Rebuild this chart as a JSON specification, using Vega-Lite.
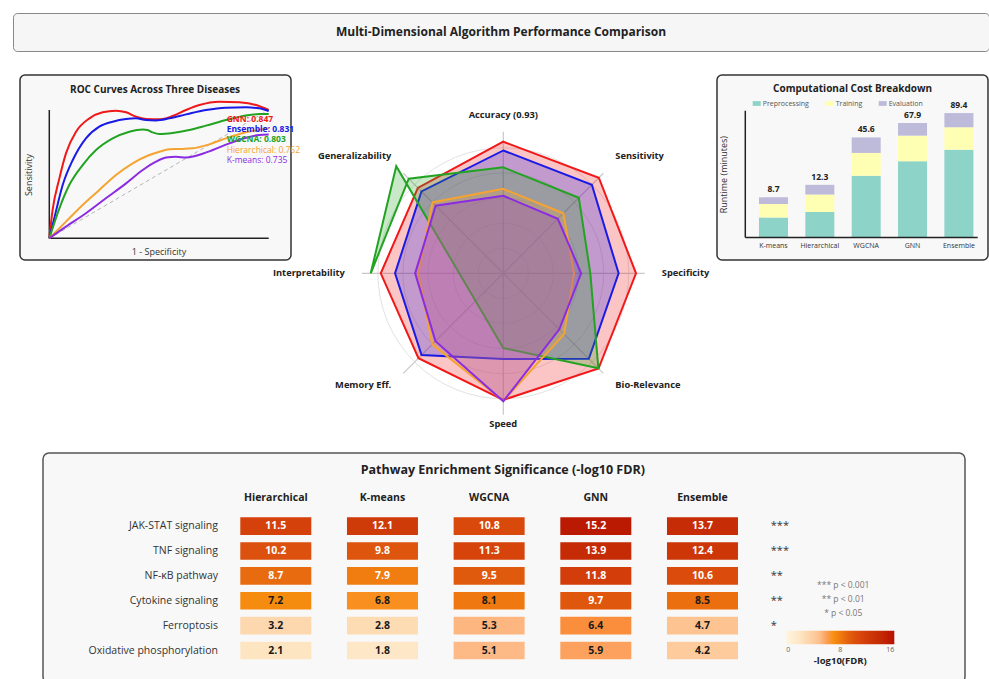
{
"$schema": "https://vega.github.io/schema/vega-lite/v6.json",
"background": "white",
"padding": {"left": 12, "top": 12, "right": 0, "bottom": 0},
"bounds": "full",
"spacing": 22,
"resolve": {"scale": {"color": "independent", "size": "independent"}, "legend": {"color": "independent", "size": "independent"}},
"config": {"font": "Open Sans", "view": {"stroke": null}},
"datasets": {
"roc": [
{"algo":"GNN","fpr":0,"tpr":0},{"algo":"GNN","fpr":0.015,"tpr":0.22},{"algo":"GNN","fpr":0.046,"tpr":0.467},{"algo":"GNN","fpr":0.076,"tpr":0.662},{"algo":"GNN","fpr":0.122,"tpr":0.831},{"algo":"GNN","fpr":0.183,"tpr":0.935},{"algo":"GNN","fpr":0.243,"tpr":0.982},{"algo":"GNN","fpr":0.304,"tpr":0.995},{"algo":"GNN","fpr":0.35,"tpr":0.982},{"algo":"GNN","fpr":0.395,"tpr":0.948},{"algo":"GNN","fpr":0.441,"tpr":0.93},{"algo":"GNN","fpr":0.502,"tpr":0.927},{"algo":"GNN","fpr":0.562,"tpr":0.953},{"algo":"GNN","fpr":0.623,"tpr":1.0},{"algo":"GNN","fpr":0.684,"tpr":1.039},{"algo":"GNN","fpr":0.775,"tpr":1.065},{"algo":"GNN","fpr":0.866,"tpr":1.06},{"algo":"GNN","fpr":0.942,"tpr":1.039},{"algo":"GNN","fpr":1.0,"tpr":1.0},
{"algo":"Ensemble","fpr":0,"tpr":0},{"algo":"Ensemble","fpr":0.03,"tpr":0.208},{"algo":"Ensemble","fpr":0.061,"tpr":0.415},{"algo":"Ensemble","fpr":0.107,"tpr":0.61},{"algo":"Ensemble","fpr":0.167,"tpr":0.779},{"algo":"Ensemble","fpr":0.228,"tpr":0.87},{"algo":"Ensemble","fpr":0.289,"tpr":0.909},{"algo":"Ensemble","fpr":0.35,"tpr":0.93},{"algo":"Ensemble","fpr":0.395,"tpr":0.935},{"algo":"Ensemble","fpr":0.441,"tpr":0.922},{"algo":"Ensemble","fpr":0.486,"tpr":0.919},{"algo":"Ensemble","fpr":0.547,"tpr":0.935},{"algo":"Ensemble","fpr":0.623,"tpr":0.966},{"algo":"Ensemble","fpr":0.714,"tpr":1.0},{"algo":"Ensemble","fpr":0.805,"tpr":1.018},{"algo":"Ensemble","fpr":0.897,"tpr":1.021},{"algo":"Ensemble","fpr":0.957,"tpr":1.013},{"algo":"Ensemble","fpr":1.0,"tpr":0.992},
{"algo":"WGCNA","fpr":0,"tpr":0},{"algo":"WGCNA","fpr":0.046,"tpr":0.234},{"algo":"WGCNA","fpr":0.091,"tpr":0.415},{"algo":"WGCNA","fpr":0.152,"tpr":0.571},{"algo":"WGCNA","fpr":0.213,"tpr":0.688},{"algo":"WGCNA","fpr":0.289,"tpr":0.779},{"algo":"WGCNA","fpr":0.365,"tpr":0.831},{"algo":"WGCNA","fpr":0.426,"tpr":0.849},{"algo":"WGCNA","fpr":0.448,"tpr":0.844},{"algo":"WGCNA","fpr":0.471,"tpr":0.826},{"algo":"WGCNA","fpr":0.502,"tpr":0.813},{"algo":"WGCNA","fpr":0.562,"tpr":0.821},{"algo":"WGCNA","fpr":0.638,"tpr":0.844},{"algo":"WGCNA","fpr":0.714,"tpr":0.878},{"algo":"WGCNA","fpr":0.805,"tpr":0.922},{"algo":"WGCNA","fpr":0.897,"tpr":0.958},{"algo":"WGCNA","fpr":0.957,"tpr":0.968},{"algo":"WGCNA","fpr":1.0,"tpr":0.968},
{"algo":"Hierarchical","fpr":0,"tpr":0},{"algo":"Hierarchical","fpr":0.076,"tpr":0.13},{"algo":"Hierarchical","fpr":0.152,"tpr":0.26},{"algo":"Hierarchical","fpr":0.228,"tpr":0.377},{"algo":"Hierarchical","fpr":0.304,"tpr":0.493},{"algo":"Hierarchical","fpr":0.38,"tpr":0.584},{"algo":"Hierarchical","fpr":0.456,"tpr":0.649},{"algo":"Hierarchical","fpr":0.502,"tpr":0.675},{"algo":"Hierarchical","fpr":0.547,"tpr":0.694},{"algo":"Hierarchical","fpr":0.593,"tpr":0.696},{"algo":"Hierarchical","fpr":0.654,"tpr":0.701},{"algo":"Hierarchical","fpr":0.729,"tpr":0.732},{"algo":"Hierarchical","fpr":0.805,"tpr":0.779},{"algo":"Hierarchical","fpr":0.897,"tpr":0.826},{"algo":"Hierarchical","fpr":1.0,"tpr":0.857},
{"algo":"K-means","fpr":0,"tpr":0},{"algo":"K-means","fpr":0.076,"tpr":0.091},{"algo":"K-means","fpr":0.167,"tpr":0.195},{"algo":"K-means","fpr":0.258,"tpr":0.312},{"algo":"K-means","fpr":0.35,"tpr":0.428},{"algo":"K-means","fpr":0.426,"tpr":0.532},{"algo":"K-means","fpr":0.486,"tpr":0.597},{"algo":"K-means","fpr":0.532,"tpr":0.629},{"algo":"K-means","fpr":0.578,"tpr":0.636},{"algo":"K-means","fpr":0.623,"tpr":0.629},{"algo":"K-means","fpr":0.669,"tpr":0.644},{"algo":"K-means","fpr":0.745,"tpr":0.688},{"algo":"K-means","fpr":0.821,"tpr":0.74},{"algo":"K-means","fpr":0.897,"tpr":0.784},{"algo":"K-means","fpr":0.957,"tpr":0.805},{"algo":"K-means","fpr":1.0,"tpr":0.81}
],
"roclab": [{"algo":"GNN","auc":0.847},{"algo":"Ensemble","auc":0.831},{"algo":"WGCNA","auc":0.803},{"algo":"Hierarchical","auc":0.762},{"algo":"K-means","auc":0.735}],
"axes": [
{"axis":"Accuracy","label":"Accuracy (0.93)"},{"axis":"Sensitivity","label":"Sensitivity"},{"axis":"Specificity","label":"Specificity"},{"axis":"Bio-Relevance","label":"Bio-Relevance"},{"axis":"Speed","label":"Speed"},{"axis":"Memory Eff.","label":"Memory Eff."},{"axis":"Interpretability","label":"Interpretability"},{"axis":"Generalizability","label":"Generalizability"}
],
"rings": [{"r":0.2},{"r":0.4},{"r":0.6},{"r":0.8},{"r":1.0}],
"radar": [
{"algo":"GNN","ord":1,"axis":"Accuracy","value":0.93},{"algo":"GNN","ord":2,"axis":"Sensitivity","value":0.955},{"algo":"GNN","ord":3,"axis":"Specificity","value":0.938},{"algo":"GNN","ord":4,"axis":"Bio-Relevance","value":0.952},{"algo":"GNN","ord":5,"axis":"Speed","value":0.895},{"algo":"GNN","ord":6,"axis":"Memory Eff.","value":0.848},{"algo":"GNN","ord":7,"axis":"Interpretability","value":0.866},{"algo":"GNN","ord":8,"axis":"Generalizability","value":0.854},
{"algo":"Ensemble","ord":1,"axis":"Accuracy","value":0.868},{"algo":"Ensemble","ord":2,"axis":"Sensitivity","value":0.885},{"algo":"Ensemble","ord":3,"axis":"Specificity","value":0.815},{"algo":"Ensemble","ord":4,"axis":"Bio-Relevance","value":0.855},{"algo":"Ensemble","ord":5,"axis":"Speed","value":0.605},{"algo":"Ensemble","ord":6,"axis":"Memory Eff.","value":0.817},{"algo":"Ensemble","ord":7,"axis":"Interpretability","value":0.765},{"algo":"Ensemble","ord":8,"axis":"Generalizability","value":0.818},
{"algo":"WGCNA","ord":1,"axis":"Accuracy","value":0.749},{"algo":"WGCNA","ord":2,"axis":"Sensitivity","value":0.755},{"algo":"WGCNA","ord":3,"axis":"Specificity","value":0.615},{"algo":"WGCNA","ord":4,"axis":"Bio-Relevance","value":0.95},{"algo":"WGCNA","ord":5,"axis":"Speed","value":0.528},{"algo":"WGCNA","ord":6,"axis":"Generalizability","value":1.07},{"algo":"WGCNA","ord":7,"axis":"Interpretability","value":0.937},{"algo":"WGCNA","ord":8,"axis":"Generalizability","value":0.945},
{"algo":"Hierarchical","ord":1,"axis":"Accuracy","value":0.597},{"algo":"Hierarchical","ord":2,"axis":"Sensitivity","value":0.6},{"algo":"Hierarchical","ord":3,"axis":"Specificity","value":0.5},{"algo":"Hierarchical","ord":4,"axis":"Bio-Relevance","value":0.608},{"algo":"Hierarchical","ord":5,"axis":"Speed","value":0.902},{"algo":"Hierarchical","ord":6,"axis":"Memory Eff.","value":0.71},{"algo":"Hierarchical","ord":7,"axis":"Interpretability","value":0.6},{"algo":"Hierarchical","ord":8,"axis":"Generalizability","value":0.708},
{"algo":"K-means","ord":1,"axis":"Accuracy","value":0.548},{"algo":"K-means","ord":2,"axis":"Sensitivity","value":0.545},{"algo":"K-means","ord":3,"axis":"Specificity","value":0.55},{"algo":"K-means","ord":4,"axis":"Bio-Relevance","value":0.56},{"algo":"K-means","ord":5,"axis":"Speed","value":0.905},{"algo":"K-means","ord":6,"axis":"Memory Eff.","value":0.678},{"algo":"K-means","ord":7,"axis":"Interpretability","value":0.623},{"algo":"K-means","ord":8,"axis":"Generalizability","value":0.676}
],
"cost": [
{"algo":"K-means","part":"Preprocessing","value":5.0},{"algo":"K-means","part":"Training","value":2.25},{"algo":"K-means","part":"Evaluation","value":1.45},
{"algo":"Hierarchical","part":"Preprocessing","value":5.8},{"algo":"Hierarchical","part":"Training","value":3.6},{"algo":"Hierarchical","part":"Evaluation","value":2.9},
{"algo":"WGCNA","part":"Preprocessing","value":15.8},{"algo":"WGCNA","part":"Training","value":13.9},{"algo":"WGCNA","part":"Evaluation","value":15.9},
{"algo":"GNN","part":"Preprocessing","value":23.6},{"algo":"GNN","part":"Training","value":24.3},{"algo":"GNN","part":"Evaluation","value":20.0},
{"algo":"Ensemble","part":"Preprocessing","value":32.5},{"algo":"Ensemble","part":"Training","value":27.9},{"algo":"Ensemble","part":"Evaluation","value":29.0}
],
"heat": [
{"pathway":"JAK-STAT signaling","algo":"Hierarchical","value":11.5},{"pathway":"JAK-STAT signaling","algo":"K-means","value":12.1},{"pathway":"JAK-STAT signaling","algo":"WGCNA","value":10.8},{"pathway":"JAK-STAT signaling","algo":"GNN","value":15.2},{"pathway":"JAK-STAT signaling","algo":"Ensemble","value":13.7},
{"pathway":"TNF signaling","algo":"Hierarchical","value":10.2},{"pathway":"TNF signaling","algo":"K-means","value":9.8},{"pathway":"TNF signaling","algo":"WGCNA","value":11.3},{"pathway":"TNF signaling","algo":"GNN","value":13.9},{"pathway":"TNF signaling","algo":"Ensemble","value":12.4},
{"pathway":"NF-κB pathway","algo":"Hierarchical","value":8.7},{"pathway":"NF-κB pathway","algo":"K-means","value":7.9},{"pathway":"NF-κB pathway","algo":"WGCNA","value":9.5},{"pathway":"NF-κB pathway","algo":"GNN","value":11.8},{"pathway":"NF-κB pathway","algo":"Ensemble","value":10.6},
{"pathway":"Cytokine signaling","algo":"Hierarchical","value":7.2},{"pathway":"Cytokine signaling","algo":"K-means","value":6.8},{"pathway":"Cytokine signaling","algo":"WGCNA","value":8.1},{"pathway":"Cytokine signaling","algo":"GNN","value":9.7},{"pathway":"Cytokine signaling","algo":"Ensemble","value":8.5},
{"pathway":"Ferroptosis","algo":"Hierarchical","value":3.2},{"pathway":"Ferroptosis","algo":"K-means","value":2.8},{"pathway":"Ferroptosis","algo":"WGCNA","value":5.3},{"pathway":"Ferroptosis","algo":"GNN","value":6.4},{"pathway":"Ferroptosis","algo":"Ensemble","value":4.7},
{"pathway":"Oxidative phosphorylation","algo":"Hierarchical","value":2.1},{"pathway":"Oxidative phosphorylation","algo":"K-means","value":1.8},{"pathway":"Oxidative phosphorylation","algo":"WGCNA","value":5.1},{"pathway":"Oxidative phosphorylation","algo":"GNN","value":5.9},{"pathway":"Oxidative phosphorylation","algo":"Ensemble","value":4.2}
],
"sig": [
{"pathway":"JAK-STAT signaling","stars":"***"},{"pathway":"TNF signaling","stars":"***"},{"pathway":"NF-κB pathway","stars":"**"},{"pathway":"Cytokine signaling","stars":"**"},{"pathway":"Ferroptosis","stars":"*"}
]
},
"vconcat": [
{
"width": 976, "height": 38,
"view": {"fill": "#f6f6f6", "stroke": "#888888", "strokeWidth": 1, "cornerRadius": 4},
"data": {"values": [{"t": "Multi-Dimensional Algorithm Performance Comparison"}]},
"mark": {"type": "text", "fontSize": 12, "fontWeight": "bold", "color": "#222222"},
"encoding": {"text": {"field": "t", "type": "nominal"}}
},
{
"resolve": {"scale": {"color": "independent", "size": "independent"}, "legend": {"color": "independent", "size": "independent"}},
"hconcat": [
{"width": 7, "height": 354, "data": {"values": [{"t": ""}]}, "mark": {"type": "text"}, "encoding": {"text": {"field": "t", "type": "nominal"}}},
{
"width": 271, "height": 185,
"view": {"fill": "#f8f8f8", "stroke": "#333333", "strokeWidth": 1.5, "cornerRadius": 5},
"layer": [
{"data": {"values": [{"a": 0, "b": 1}]}, "mark": {"type": "rule", "color": "#b5b5b5", "strokeDash": [4, 3], "strokeWidth": 1},
 "encoding": {"x": {"field": "a", "type": "quantitative", "scale": {"domain": [-0.1335, 1.1016], "nice": false, "zero": false}, "axis": null}, "y": {"field": "a", "type": "quantitative", "scale": {"domain": [-0.1691, 1.2728], "nice": false, "zero": false}, "axis": null}, "x2": {"field": "b"}, "y2": {"field": "b"}}},
{"data": {"values": [{"a": 0, "b": 1}]}, "mark": {"type": "rule", "color": "#222222", "strokeWidth": 1.5},
 "encoding": {"x": {"field": "a", "type": "quantitative", "scale": {"domain": [-0.1335, 1.1016], "nice": false, "zero": false}, "axis": null}, "y": {"field": "a", "type": "quantitative", "scale": {"domain": [-0.1691, 1.2728], "nice": false, "zero": false}, "axis": null}, "y2": {"field": "b"}}},
{"data": {"values": [{"a": 0, "b": 1}]}, "mark": {"type": "rule", "color": "#222222", "strokeWidth": 1.5},
 "encoding": {"x": {"field": "a", "type": "quantitative", "scale": {"domain": [-0.1335, 1.1016], "nice": false, "zero": false}, "axis": null}, "x2": {"field": "b"}, "y": {"field": "a", "type": "quantitative", "scale": {"domain": [-0.1691, 1.2728], "nice": false, "zero": false}, "axis": null}}},
{"data": {"name": "roc"}, "mark": {"type": "line", "interpolate": "monotone", "strokeWidth": 2},
 "encoding": {"x": {"field": "fpr", "type": "quantitative", "scale": {"domain": [-0.1335, 1.1016], "nice": false, "zero": false}, "axis": null}, "y": {"field": "tpr", "type": "quantitative", "scale": {"domain": [-0.1691, 1.2728], "nice": false, "zero": false}, "axis": null},
  "color": {"field": "algo", "type": "nominal", "scale": {"domain": ["GNN","Ensemble","WGCNA","Hierarchical","K-means"], "range": ["#f01818","#1a1ae6","#22a322","#f5a331","#8b2be2"]}, "legend": null}}},
{"data": {"name": "roclab"}, "transform": [{"filter": "datum.algo == 'GNN'"}, {"calculate": "datum.algo + ': ' + format(datum.auc, '.3f')", "as": "lab"}],
 "mark": {"type": "text", "align": "left", "fontSize": 8.5, "fontWeight": "bold", "color": "#f01818"},
 "encoding": {"x": {"datum": 0.8086, "type": "quantitative", "scale": {"domain": [-0.1335, 1.1016], "nice": false, "zero": false}, "axis": null}, "y": {"datum": 0.932, "type": "quantitative", "scale": {"domain": [-0.1691, 1.2728], "nice": false, "zero": false}, "axis": null}, "text": {"field": "lab", "type": "nominal"}}},
{"data": {"name": "roclab"}, "transform": [{"filter": "datum.algo == 'Ensemble'"}, {"calculate": "datum.algo + ': ' + format(datum.auc, '.3f')", "as": "lab"}],
 "mark": {"type": "text", "align": "left", "fontSize": 8.5, "fontWeight": "bold", "color": "#1a1ae6"},
 "encoding": {"x": {"datum": 0.8086, "type": "quantitative", "scale": {"domain": [-0.1335, 1.1016], "nice": false, "zero": false}, "axis": null}, "y": {"datum": 0.852, "type": "quantitative", "scale": {"domain": [-0.1691, 1.2728], "nice": false, "zero": false}, "axis": null}, "text": {"field": "lab", "type": "nominal"}}},
{"data": {"name": "roclab"}, "transform": [{"filter": "datum.algo == 'WGCNA'"}, {"calculate": "datum.algo + ': ' + format(datum.auc, '.3f')", "as": "lab"}],
 "mark": {"type": "text", "align": "left", "fontSize": 8.5, "fontWeight": "bold", "color": "#22a322"},
 "encoding": {"x": {"datum": 0.8086, "type": "quantitative", "scale": {"domain": [-0.1335, 1.1016], "nice": false, "zero": false}, "axis": null}, "y": {"datum": 0.772, "type": "quantitative", "scale": {"domain": [-0.1691, 1.2728], "nice": false, "zero": false}, "axis": null}, "text": {"field": "lab", "type": "nominal"}}},
{"data": {"name": "roclab"}, "transform": [{"filter": "datum.algo == 'Hierarchical'"}, {"calculate": "datum.algo + ': ' + format(datum.auc, '.3f')", "as": "lab"}],
 "mark": {"type": "text", "align": "left", "fontSize": 8.5, "color": "#f5a331"},
 "encoding": {"x": {"datum": 0.8086, "type": "quantitative", "scale": {"domain": [-0.1335, 1.1016], "nice": false, "zero": false}, "axis": null}, "y": {"datum": 0.691, "type": "quantitative", "scale": {"domain": [-0.1691, 1.2728], "nice": false, "zero": false}, "axis": null}, "text": {"field": "lab", "type": "nominal"}}},
{"data": {"name": "roclab"}, "transform": [{"filter": "datum.algo == 'K-means'"}, {"calculate": "datum.algo + ': ' + format(datum.auc, '.3f')", "as": "lab"}],
 "mark": {"type": "text", "align": "left", "fontSize": 8.5, "color": "#8b2be2"},
 "encoding": {"x": {"datum": 0.8086, "type": "quantitative", "scale": {"domain": [-0.1335, 1.1016], "nice": false, "zero": false}, "axis": null}, "y": {"datum": 0.611, "type": "quantitative", "scale": {"domain": [-0.1691, 1.2728], "nice": false, "zero": false}, "axis": null}, "text": {"field": "lab", "type": "nominal"}}},
{"data": {"values": [{"t": "ROC Curves Across Three Diseases"}]}, "mark": {"type": "text", "fontSize": 10, "fontWeight": "bold", "color": "#222222"},
 "encoding": {"x": {"datum": 0.482, "type": "quantitative", "scale": {"domain": [-0.1335, 1.1016], "nice": false, "zero": false}, "axis": null}, "y": {"datum": 1.156, "type": "quantitative", "scale": {"domain": [-0.1691, 1.2728], "nice": false, "zero": false}, "axis": null}, "text": {"field": "t", "type": "nominal"}}},
{"data": {"values": [{"t": "Sensitivity"}]}, "mark": {"type": "text", "fontSize": 9, "angle": 270, "color": "#333333"},
 "encoding": {"x": {"datum": -0.0925, "type": "quantitative", "scale": {"domain": [-0.1335, 1.1016], "nice": false, "zero": false}, "axis": null}, "y": {"datum": 0.493, "type": "quantitative", "scale": {"domain": [-0.1691, 1.2728], "nice": false, "zero": false}, "axis": null}, "text": {"field": "t", "type": "nominal"}}},
{"data": {"values": [{"t": "1 - Specificity"}]}, "mark": {"type": "text", "fontSize": 9, "color": "#333333"},
 "encoding": {"x": {"datum": 0.5, "type": "quantitative", "scale": {"domain": [-0.1335, 1.1016], "nice": false, "zero": false}, "axis": null}, "y": {"datum": -0.107, "type": "quantitative", "scale": {"domain": [-0.1691, 1.2728], "nice": false, "zero": false}, "axis": null}, "text": {"field": "t", "type": "nominal"}}}
]
},
{
"width": 426, "height": 354,
"layer": [
{"data": {"name": "rings"}, "transform": [{"calculate": "0", "as": "c"}], "mark": {"type": "point", "shape": "circle", "filled": false, "stroke": "#e2e2e2", "strokeWidth": 1, "opacity": 1},
 "encoding": {"x": {"field": "c", "type": "quantitative", "scale": {"domain": [-1.5004, 1.5103], "nice": false, "zero": false}, "axis": null}, "y": {"field": "c", "type": "quantitative", "scale": {"domain": [-1.1004, 1.4014], "nice": false, "zero": false}, "axis": null},
  "size": {"field": "r", "type": "quantitative", "scale": {"type": "pow", "exponent": 2, "domain": [0, 1], "range": [0, 62901], "zero": true, "nice": false}, "legend": null}}},
{"data": {"name": "axes"}, "transform": [
  {"calculate": "indexof(['Accuracy','Sensitivity','Specificity','Bio-Relevance','Speed','Memory Eff.','Interpretability','Generalizability'], datum.axis)", "as": "k"},
  {"calculate": "0", "as": "c"},
  {"calculate": "sin(datum.k * PI / 4)", "as": "sx"},
  {"calculate": "cos(datum.k * PI / 4)", "as": "sy"}],
 "mark": {"type": "rule", "color": "#c8c8c8", "strokeWidth": 1.2},
 "encoding": {"x": {"field": "c", "type": "quantitative", "scale": {"domain": [-1.5004, 1.5103], "nice": false, "zero": false}, "axis": null}, "y": {"field": "c", "type": "quantitative", "scale": {"domain": [-1.1004, 1.4014], "nice": false, "zero": false}, "axis": null}, "x2": {"field": "sx"}, "y2": {"field": "sy"}}},
{"data": {"name": "radar"}, "transform": [
  {"calculate": "indexof(['Accuracy','Sensitivity','Specificity','Bio-Relevance','Speed','Memory Eff.','Interpretability','Generalizability'], datum.axis)", "as": "k"},
  {"calculate": "datum.value * sin(datum.k * PI / 4)", "as": "px"},
  {"calculate": "datum.value * cos(datum.k * PI / 4)", "as": "py"}],
 "layer": [
  {"transform": [{"filter": "datum.algo == 'GNN'"}], "mark": {"type": "line", "interpolate": "linear-closed", "stroke": "#f01818", "fill": "#f01818", "fillOpacity": 0.25, "strokeWidth": 2},
   "encoding": {"x": {"field": "px", "type": "quantitative", "scale": {"domain": [-1.5004, 1.5103], "nice": false, "zero": false}, "axis": null}, "y": {"field": "py", "type": "quantitative", "scale": {"domain": [-1.1004, 1.4014], "nice": false, "zero": false}, "axis": null}, "order": {"field": "ord", "type": "quantitative"}}},
  {"transform": [{"filter": "datum.algo == 'Ensemble'"}], "mark": {"type": "line", "interpolate": "linear-closed", "stroke": "#1a1ae6", "fill": "#1a1ae6", "fillOpacity": 0.25, "strokeWidth": 2},
   "encoding": {"x": {"field": "px", "type": "quantitative", "scale": {"domain": [-1.5004, 1.5103], "nice": false, "zero": false}, "axis": null}, "y": {"field": "py", "type": "quantitative", "scale": {"domain": [-1.1004, 1.4014], "nice": false, "zero": false}, "axis": null}, "order": {"field": "ord", "type": "quantitative"}}},
  {"transform": [{"filter": "datum.algo == 'WGCNA'"}], "mark": {"type": "line", "interpolate": "linear-closed", "stroke": "#22a322", "fill": "#22a322", "fillOpacity": 0.25, "strokeWidth": 2},
   "encoding": {"x": {"field": "px", "type": "quantitative", "scale": {"domain": [-1.5004, 1.5103], "nice": false, "zero": false}, "axis": null}, "y": {"field": "py", "type": "quantitative", "scale": {"domain": [-1.1004, 1.4014], "nice": false, "zero": false}, "axis": null}, "order": {"field": "ord", "type": "quantitative"}}},
  {"transform": [{"filter": "datum.algo == 'Hierarchical'"}], "mark": {"type": "line", "interpolate": "linear-closed", "stroke": "#f5a331", "fill": "#f5a331", "fillOpacity": 0.25, "strokeWidth": 2},
   "encoding": {"x": {"field": "px", "type": "quantitative", "scale": {"domain": [-1.5004, 1.5103], "nice": false, "zero": false}, "axis": null}, "y": {"field": "py", "type": "quantitative", "scale": {"domain": [-1.1004, 1.4014], "nice": false, "zero": false}, "axis": null}, "order": {"field": "ord", "type": "quantitative"}}},
  {"transform": [{"filter": "datum.algo == 'K-means'"}], "mark": {"type": "line", "interpolate": "linear-closed", "stroke": "#8b2be2", "fill": "#8b2be2", "fillOpacity": 0.25, "strokeWidth": 2},
   "encoding": {"x": {"field": "px", "type": "quantitative", "scale": {"domain": [-1.5004, 1.5103], "nice": false, "zero": false}, "axis": null}, "y": {"field": "py", "type": "quantitative", "scale": {"domain": [-1.1004, 1.4014], "nice": false, "zero": false}, "axis": null}, "order": {"field": "ord", "type": "quantitative"}}}
 ]},
{"data": {"name": "axes"}, "transform": [
  {"calculate": "indexof(['Accuracy','Sensitivity','Specificity','Bio-Relevance','Speed','Memory Eff.','Interpretability','Generalizability'], datum.axis)", "as": "k"},
  {"calculate": "(datum.k == 4 ? 1.1 : 1.12) * sin(datum.k * PI / 4)", "as": "lx"},
  {"calculate": "(datum.k == 4 ? 1.1 : 1.12) * cos(datum.k * PI / 4)", "as": "ly"}],
 "layer": [
  {"transform": [{"filter": "datum.k == 0"}], "mark": {"type": "text", "fontSize": 9.3, "fontWeight": "bold", "color": "#222222", "align": "center", "baseline": "middle"},
   "encoding": {"x": {"field": "lx", "type": "quantitative", "scale": {"domain": [-1.5004, 1.5103], "nice": false, "zero": false}, "axis": null}, "y": {"field": "ly", "type": "quantitative", "scale": {"domain": [-1.1004, 1.4014], "nice": false, "zero": false}, "axis": null}, "text": {"field": "label", "type": "nominal"}}},
  {"transform": [{"filter": "datum.k == 4"}], "mark": {"type": "text", "fontSize": 9.3, "fontWeight": "bold", "color": "#222222", "align": "center", "baseline": "bottom"},
   "encoding": {"x": {"field": "lx", "type": "quantitative", "scale": {"domain": [-1.5004, 1.5103], "nice": false, "zero": false}, "axis": null}, "y": {"field": "ly", "type": "quantitative", "scale": {"domain": [-1.1004, 1.4014], "nice": false, "zero": false}, "axis": null}, "text": {"field": "label", "type": "nominal"}}},
  {"transform": [{"filter": "datum.k == 1"}], "mark": {"type": "text", "fontSize": 9.3, "fontWeight": "bold", "color": "#222222", "align": "left", "baseline": "bottom"},
   "encoding": {"x": {"field": "lx", "type": "quantitative", "scale": {"domain": [-1.5004, 1.5103], "nice": false, "zero": false}, "axis": null}, "y": {"field": "ly", "type": "quantitative", "scale": {"domain": [-1.1004, 1.4014], "nice": false, "zero": false}, "axis": null}, "text": {"field": "label", "type": "nominal"}}},
  {"transform": [{"filter": "datum.k == 2 || datum.k == 3"}], "mark": {"type": "text", "fontSize": 9.3, "fontWeight": "bold", "color": "#222222", "align": "left", "baseline": "middle"},
   "encoding": {"x": {"field": "lx", "type": "quantitative", "scale": {"domain": [-1.5004, 1.5103], "nice": false, "zero": false}, "axis": null}, "y": {"field": "ly", "type": "quantitative", "scale": {"domain": [-1.1004, 1.4014], "nice": false, "zero": false}, "axis": null}, "text": {"field": "label", "type": "nominal"}}},
  {"transform": [{"filter": "datum.k == 5 || datum.k == 6"}], "mark": {"type": "text", "fontSize": 9.3, "fontWeight": "bold", "color": "#222222", "align": "right", "baseline": "middle"},
   "encoding": {"x": {"field": "lx", "type": "quantitative", "scale": {"domain": [-1.5004, 1.5103], "nice": false, "zero": false}, "axis": null}, "y": {"field": "ly", "type": "quantitative", "scale": {"domain": [-1.1004, 1.4014], "nice": false, "zero": false}, "axis": null}, "text": {"field": "label", "type": "nominal"}}},
  {"transform": [{"filter": "datum.k == 7"}], "mark": {"type": "text", "fontSize": 9.3, "fontWeight": "bold", "color": "#222222", "align": "right", "baseline": "bottom"},
   "encoding": {"x": {"field": "lx", "type": "quantitative", "scale": {"domain": [-1.5004, 1.5103], "nice": false, "zero": false}, "axis": null}, "y": {"field": "ly", "type": "quantitative", "scale": {"domain": [-1.1004, 1.4014], "nice": false, "zero": false}, "axis": null}, "text": {"field": "label", "type": "nominal"}}}
 ]}
]
},
{
"width": 271, "height": 185,
"view": {"fill": "#f8f8f8", "stroke": "#333333", "strokeWidth": 1.5, "cornerRadius": 5},
"resolve": {"scale": {"x": "independent"}},
"layer": [
{"layer": [
 {"data": {"name": "cost"}, "transform": [
   {"calculate": "indexof(['Preprocessing','Training','Evaluation'], datum.part)", "as": "pi"},
   {"window": [{"op": "sum", "field": "value", "as": "top"}], "groupby": ["algo"], "sort": [{"field": "pi", "order": "ascending"}], "frame": [null, 0]},
   {"calculate": "max(datum.top - datum.value, 2.87)", "as": "bottom"}],
  "mark": {"type": "bar"},
  "encoding": {
   "x": {"field": "algo", "type": "nominal", "scale": {"domain": ["K-means","Hierarchical","WGCNA","GNN","Ensemble"], "paddingInner": 0.374, "paddingOuter": 0.61, "align": 0.742}, "axis": null},
   "y": {"field": "top", "type": "quantitative", "scale": {"type": "log", "domain": [1.54, 256], "nice": false}, "axis": null},
   "y2": {"field": "bottom"},
   "color": {"field": "part", "type": "nominal", "scale": {"domain": ["Preprocessing","Training","Evaluation"], "range": ["#8dd3c7","#ffffb3","#bebada"]},
    "legend": {"orient": "none", "legendX": 35.7, "legendY": 24.5, "direction": "horizontal", "title": null, "symbolType": "M-1,-0.6H1V0.6H-1Z", "symbolSize": 64, "symbolStrokeWidth": 0, "symbolOpacity": 1, "labelFontSize": 7, "labelColor": "#555555", "labelOffset": 2, "columnPadding": 16, "padding": 0}}
  }},
 {"data": {"name": "cost"}, "transform": [{"aggregate": [{"op": "sum", "field": "value", "as": "total"}], "groupby": ["algo"]}],
  "mark": {"type": "text", "fontSize": 8.5, "fontWeight": "bold", "baseline": "bottom", "dy": -3, "color": "#222222"},
  "encoding": {
   "x": {"field": "algo", "type": "nominal", "scale": {"domain": ["K-means","Hierarchical","WGCNA","GNN","Ensemble"], "paddingInner": 0.374, "paddingOuter": 0.61, "align": 0.742}, "axis": null},
   "y": {"field": "total", "type": "quantitative", "scale": {"type": "log", "domain": [1.54, 256], "nice": false}, "axis": null},
   "text": {"field": "total", "type": "quantitative", "format": ".1f"}}},
 {"data": {"name": "cost"}, "transform": [{"aggregate": [{"op": "sum", "field": "value", "as": "total"}], "groupby": ["algo"]}],
  "mark": {"type": "text", "fontSize": 7, "baseline": "middle", "color": "#333333"},
  "encoding": {
   "x": {"field": "algo", "type": "nominal", "scale": {"domain": ["K-means","Hierarchical","WGCNA","GNN","Ensemble"], "paddingInner": 0.374, "paddingOuter": 0.61, "align": 0.742}, "axis": null},
   "y": {"datum": 2.25, "type": "quantitative", "scale": {"type": "log", "domain": [1.54, 256], "nice": false}, "axis": null},
   "text": {"field": "algo", "type": "nominal"}}}
]},
{"layer": [
 {"data": {"values": [{"a": -0.615, "b": 2.87, "c": 95.3}]}, "mark": {"type": "rule", "color": "#222222", "strokeWidth": 1.5},
  "encoding": {"x": {"field": "a", "type": "quantitative", "scale": {"domain": [-1.2254, 4.6214], "nice": false, "zero": false}, "axis": null}, "y": {"field": "b", "type": "quantitative", "scale": {"type": "log", "domain": [1.54, 256], "nice": false}, "axis": null}, "y2": {"field": "c"}}},
 {"data": {"values": [{"a": -0.615, "b": 2.87, "d": 4.399}]}, "mark": {"type": "rule", "color": "#222222", "strokeWidth": 1.5},
  "encoding": {"x": {"field": "a", "type": "quantitative", "scale": {"domain": [-1.2254, 4.6214], "nice": false, "zero": false}, "axis": null}, "x2": {"field": "d"}, "y": {"field": "b", "type": "quantitative", "scale": {"type": "log", "domain": [1.54, 256], "nice": false}, "axis": null}}},
 {"data": {"values": [{"t": "Computational Cost Breakdown"}]}, "mark": {"type": "text", "fontSize": 10, "fontWeight": "bold", "color": "#222222"},
  "encoding": {"x": {"datum": 1.70, "type": "quantitative", "scale": {"domain": [-1.2254, 4.6214], "nice": false, "zero": false}, "axis": null}, "y": {"datum": 175, "type": "quantitative", "scale": {"type": "log", "domain": [1.54, 256], "nice": false}, "axis": null}, "text": {"field": "t", "type": "nominal"}}},
 {"data": {"values": [{"t": "Runtime (minutes)"}]}, "mark": {"type": "text", "fontSize": 9, "angle": 270, "color": "#333333"},
  "encoding": {"x": {"datum": -1.081, "type": "quantitative", "scale": {"domain": [-1.2254, 4.6214], "nice": false, "zero": false}, "axis": null}, "y": {"datum": 16.3, "type": "quantitative", "scale": {"type": "log", "domain": [1.54, 256], "nice": false}, "axis": null}, "text": {"field": "t", "type": "nominal"}}}
]}
]
}
],
"spacing": 0, "bounds": "flush"
},
{
"resolve": {"scale": {"color": "independent"}, "legend": {"color": "independent"}},
"hconcat": [
{"width": 30, "height": 230, "data": {"values": [{"t": ""}]}, "mark": {"type": "text"}, "encoding": {"text": {"field": "t", "type": "nominal"}}},
{
"width": 922, "height": 230,
"view": {"fill": "#f8f8f8", "stroke": "#555555", "strokeWidth": 1.5, "cornerRadius": 6},
"layer": [
{"data": {"name": "heat"}, "mark": {"type": "rect"},
 "encoding": {
  "x": {"field": "algo", "type": "nominal", "scale": {"domain": ["Hierarchical","K-means","WGCNA","GNN","Ensemble","Significance"], "range": [197.3, 801.65], "paddingInner": 0.3344, "paddingOuter": 0}, "axis": null},
  "y": {"field": "pathway", "type": "nominal", "scale": {"domain": ["JAK-STAT signaling","TNF signaling","NF-κB pathway","Cytokine signaling","Ferroptosis","Oxidative phosphorylation"], "range": [64.3, 206.32], "paddingInner": 0.2926, "paddingOuter": 0}, "axis": null},
  "color": {"field": "value", "type": "quantitative",
   "scale": {"domain": [0, 2, 3, 4.5, 5.5, 6.4, 7, 8, 9.5, 11, 12.5, 14, 16], "range": ["#fff4e0","#fde6c4","#fdd9b0","#fdc797","#fdb27a","#fa8e3c","#f8900f","#f07a10","#e05a0d","#d8460c","#cc3608","#c42a04","#b51000"], "interpolate": "rgb"},
   "legend": {"orient": "none", "legendX": 743.3, "legendY": 177.7, "direction": "horizontal", "gradientLength": 108, "gradientThickness": 13.6, "values": [0, 8, 16], "title": "-log10(FDR)", "titleOrient": "bottom", "titleAnchor": "middle", "titleFontSize": 9.5, "titleFontWeight": "bold", "titleColor": "#222222", "titlePadding": 2, "labelFontSize": 7, "labelColor": "#666666", "labelOffset": 2, "padding": 0, "gradientStrokeWidth": 0}}
 }},
{"data": {"name": "heat"}, "mark": {"type": "text", "fontSize": 10.5, "fontWeight": "bold"},
 "encoding": {
  "x": {"field": "algo", "type": "nominal", "scale": {"domain": ["Hierarchical","K-means","WGCNA","GNN","Ensemble","Significance"], "range": [197.3, 801.65], "paddingInner": 0.3344, "paddingOuter": 0}, "axis": null},
  "y": {"field": "pathway", "type": "nominal", "scale": {"domain": ["JAK-STAT signaling","TNF signaling","NF-κB pathway","Cytokine signaling","Ferroptosis","Oxidative phosphorylation"], "range": [64.3, 206.32], "paddingInner": 0.2926, "paddingOuter": 0}, "axis": null},
  "text": {"field": "value", "type": "quantitative", "format": ".1f"},
  "color": {"condition": {"test": "datum.value > 8.6 || datum.pathway == 'NF-κB pathway'", "value": "#ffffff"}, "value": "#1a1a1a"}}},
{"data": {"name": "heat"}, "transform": [{"filter": "datum.pathway == 'JAK-STAT signaling'"}], "mark": {"type": "text", "fontSize": 10.5, "fontWeight": "bold", "color": "#222222", "baseline": "middle"},
 "encoding": {
  "x": {"field": "algo", "type": "nominal", "scale": {"domain": ["Hierarchical","K-means","WGCNA","GNN","Ensemble","Significance"], "range": [197.3, 801.65], "paddingInner": 0.3344, "paddingOuter": 0}, "axis": null},
  "y": {"datum": "JAK-STAT signaling", "type": "nominal", "bandPosition": -1.08, "scale": {"domain": ["JAK-STAT signaling","TNF signaling","NF-κB pathway","Cytokine signaling","Ferroptosis","Oxidative phosphorylation"], "range": [64.3, 206.32], "paddingInner": 0.2926, "paddingOuter": 0}, "axis": null},
  "text": {"field": "algo", "type": "nominal"}}},
{"data": {"name": "heat"}, "transform": [{"filter": "datum.algo == 'Hierarchical'"}], "mark": {"type": "text", "fontSize": 10.5, "color": "#333333", "align": "right", "baseline": "middle"},
 "encoding": {
  "x": {"datum": "Hierarchical", "type": "nominal", "bandPosition": -0.314, "scale": {"domain": ["Hierarchical","K-means","WGCNA","GNN","Ensemble","Significance"], "range": [197.3, 801.65], "paddingInner": 0.3344, "paddingOuter": 0}, "axis": null},
  "y": {"field": "pathway", "type": "nominal", "scale": {"domain": ["JAK-STAT signaling","TNF signaling","NF-κB pathway","Cytokine signaling","Ferroptosis","Oxidative phosphorylation"], "range": [64.3, 206.32], "paddingInner": 0.2926, "paddingOuter": 0}, "axis": null},
  "text": {"field": "pathway", "type": "nominal"}}},
{"data": {"values": [{"t": "Pathway Enrichment Significance (-log10 FDR)"}]}, "mark": {"type": "text", "fontSize": 12.5, "fontWeight": "bold", "color": "#222222", "baseline": "middle"},
 "encoding": {
  "x": {"datum": "WGCNA", "type": "nominal", "bandPosition": 0.693, "scale": {"domain": ["Hierarchical","K-means","WGCNA","GNN","Ensemble","Significance"], "range": [197.3, 801.65], "paddingInner": 0.3344, "paddingOuter": 0}, "axis": null},
  "y": {"datum": "JAK-STAT signaling", "type": "nominal", "bandPosition": -2.69, "scale": {"domain": ["JAK-STAT signaling","TNF signaling","NF-κB pathway","Cytokine signaling","Ferroptosis","Oxidative phosphorylation"], "range": [64.3, 206.32], "paddingInner": 0.2926, "paddingOuter": 0}, "axis": null},
  "text": {"field": "t", "type": "nominal"}}},
{"data": {"name": "sig"}, "mark": {"type": "text", "align": "left", "fontSize": 11, "color": "#333333"},
 "encoding": {
  "x": {"datum": "Significance", "type": "nominal", "bandPosition": -0.04, "scale": {"domain": ["Hierarchical","K-means","WGCNA","GNN","Ensemble","Significance"], "range": [197.3, 801.65], "paddingInner": 0.3344, "paddingOuter": 0}, "axis": null},
  "y": {"field": "pathway", "type": "nominal", "scale": {"domain": ["JAK-STAT signaling","TNF signaling","NF-κB pathway","Cytokine signaling","Ferroptosis","Oxidative phosphorylation"], "range": [64.3, 206.32], "paddingInner": 0.2926, "paddingOuter": 0}, "axis": null},
  "text": {"field": "stars", "type": "nominal"}}},
{"data": {"values": [{"lines": ["*** p < 0.001", "** p < 0.01", "* p < 0.05"]}]}, "mark": {"type": "text", "align": "center", "baseline": "middle", "fontSize": 8.5, "lineHeight": 14, "color": "#777777"},
 "encoding": {
  "x": {"datum": "Significance", "type": "nominal", "bandPosition": 0.98, "scale": {"domain": ["Hierarchical","K-means","WGCNA","GNN","Ensemble","Significance"], "range": [197.3, 801.65], "paddingInner": 0.3344, "paddingOuter": 0}, "axis": null},
  "y": {"datum": "NF-κB pathway", "type": "nominal", "bandPosition": 1, "scale": {"domain": ["JAK-STAT signaling","TNF signaling","NF-κB pathway","Cytokine signaling","Ferroptosis","Oxidative phosphorylation"], "range": [64.3, 206.32], "paddingInner": 0.2926, "paddingOuter": 0}, "axis": null},
  "text": {"field": "lines", "type": "nominal"}}}
]
}
],
"spacing": 0, "bounds": "flush"
}
]
}
